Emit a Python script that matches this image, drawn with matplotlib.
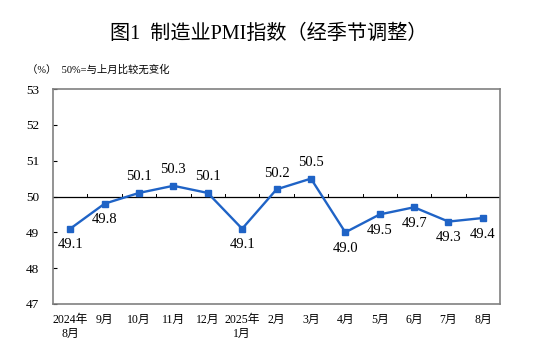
import matplotlib
matplotlib.use("Agg")
import matplotlib.pyplot as plt

plt.rcParams['font.family'] = ['Liberation Serif', 'Noto Sans CJK SC']

months = ['2024年\n8月', '9月', '10月', '11月', '12月', '2025年\n1月', '2月',
          '3月', '4月', '5月', '6月', '7月', '8月']
pmi = [49.1, 49.8, 50.1, 50.3, 50.1, 49.1, 50.2, 50.5, 49.0, 49.5, 49.7, 49.3, 49.4]
above = [False, False, True, True, True, False, True, True, False, False, False, False, False]

fig = plt.figure(figsize=(5.38, 3.4), dpi=100)
ax = fig.add_axes([0.0985, 0.106, 0.831, 0.632])

x = list(range(len(pmi)))
ax.plot(x, pmi, color='#1f63c6', lw=1.7, marker='s', ms=5, zorder=3)

for i, v in enumerate(pmi):
    if above[i]:
        ax.annotate(f'{v:.1f}', (i, v), xytext=(0, 7), textcoords='offset points',
                    ha='center', va='bottom', fontsize=10.5)
    else:
        ax.annotate(f'{v:.1f}', (i, v), xytext=(0, -7), textcoords='offset points',
                    ha='center', va='top', fontsize=10.5)

# 50 reference line with small ticks between months
ax.axhline(50, color='black', lw=0.9, zorder=2)
for b in range(1, len(pmi)):
    ax.plot([b - 0.5, b - 0.5], [50, 50.07], color='black', lw=0.7, zorder=2)

ax.set_xlim(-0.5, len(pmi) - 0.5)
ax.set_ylim(47, 53)
ax.set_yticks(range(47, 54))
ax.set_xticks(x)
ax.set_xticklabels(months, fontsize=8.5, linespacing=1.25)
ax.tick_params(axis='x', length=0, pad=7)
ax.tick_params(axis='y', direction='in', length=3, labelsize=9.5, pad=10)
for s in ax.spines.values():
    s.set_color('#808080')
    s.set_linewidth(1.2)

fig.text(0.5, 0.9, '图1  制造业PMI指数（经季节调整）', ha='center', va='center',
         fontsize=14.5, fontweight='medium')
fig.text(0.05, 0.795, '（%）  50%=与上月比较无变化', ha='left', va='center', fontsize=7.5)

fig.savefig('out.png', dpi=100)
